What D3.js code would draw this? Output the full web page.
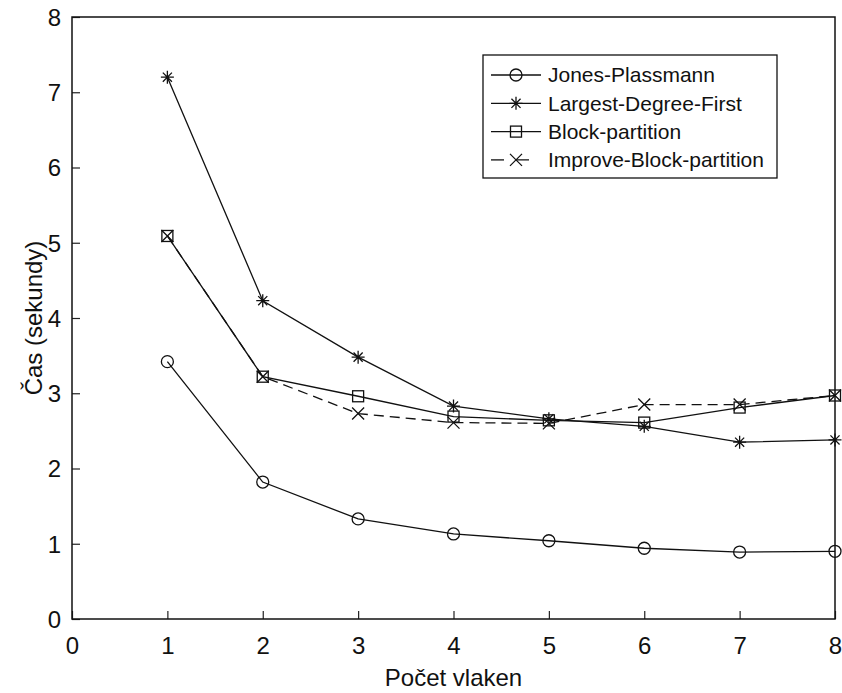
<!DOCTYPE html>
<html>
<head>
<meta charset="utf-8">
<script src="https://cdn.jsdelivr.net/npm/d3@7"></script>
<style>
body { margin: 0; background: #fff; }
svg { font-family: "Liberation Sans", Arial, sans-serif; }
</style>
</head>
<body>
<div id="chart"></div>
<script>
// data
const threads = [1, 2, 3, 4, 5, 6, 7, 8];
const jonesPlassmann = [3.42, 1.82, 1.33, 1.13, 1.04, 0.94, 0.89, 0.90];
const largestDegreeFirst = [7.20, 4.23, 3.48, 2.83, 2.66, 2.56, 2.35, 2.38];
const blockPartition = [5.09, 3.22, 2.96, 2.69, 2.64, 2.61, 2.81, 2.97];
const improveBlockPartition = [5.09, 3.22, 2.73, 2.61, 2.60, 2.85, 2.85, 2.97];
const seriesNames = ["Jones-Plassmann", "Largest-Degree-First", "Block-partition", "Improve-Block-partition"];
const xTicks = [0, 1, 2, 3, 4, 5, 6, 7, 8];
const yTicks = [0, 1, 2, 3, 4, 5, 6, 7, 8];

const W = 842, H = 693;
const margin = {top: 17, right: 7, bottom: 74, left: 72};
const width = W - margin.left - margin.right,
      height = H - margin.top - margin.bottom;

const svg = d3.select("#chart").append("svg")
  .attr("width", W).attr("height", H);
const g = svg.append("g")
  .attr("transform", `translate(${margin.left},${margin.top})`);

const x = d3.scaleLinear().domain([0, 8]).range([0, width]);
const y = d3.scaleLinear().domain([0, 8]).range([height, 0]);

// axes (ticks inward)
const xAxis = g.append("g")
  .attr("transform", `translate(0,${height})`)
  .call(d3.axisBottom(x).tickValues(xTicks).tickSize(-8).tickPadding(18).tickFormat(d3.format("d")));
const yAxis = g.append("g")
  .call(d3.axisLeft(y).tickValues(yTicks).tickSize(-8).tickPadding(11).tickFormat(d3.format("d")));
[xAxis, yAxis].forEach(a => {
  a.select(".domain").remove();
  a.selectAll("line").attr("stroke", "#222").attr("stroke-width", 1.2);
  a.selectAll("text").attr("font-size", 24).attr("fill", "#111")
    .attr("font-family", "Liberation Sans, Arial, sans-serif");
});
yAxis.selectAll("text").attr("dy", "0.35em");

// frame
g.append("rect")
  .attr("width", width).attr("height", height)
  .attr("fill", "none").attr("stroke", "#111").attr("stroke-width", 1.5);

// labels
svg.append("text")
  .attr("x", margin.left + width / 2).attr("y", 686)
  .attr("text-anchor", "middle").attr("font-size", 24).attr("fill", "#111")
  .text("Počet vlaken");
svg.append("text")
  .attr("transform", `translate(42,${margin.top + height / 2}) rotate(-90)`)
  .attr("text-anchor", "middle").attr("font-size", 24).attr("fill", "#111")
  .text("Čas (sekundy)");

// markers
function drawMarker(sel, type) {
  const s = sel.append("g").attr("fill", "none").attr("stroke", "#111").attr("stroke-width", 1.3);
  if (type === "circle") {
    s.append("circle").attr("r", 6);
  } else if (type === "square") {
    s.append("rect").attr("x", -5.5).attr("y", -5.5).attr("width", 11).attr("height", 11);
  } else if (type === "star") {
    const r = 6.5;
    s.append("path").attr("d",
      `M${-r},0H${r}M0,${-r}V${r}` +
      `M${-r * 0.7},${-r * 0.7}L${r * 0.7},${r * 0.7}M${-r * 0.7},${r * 0.7}L${r * 0.7},${-r * 0.7}`);
  } else if (type === "x") {
    const r = 6;
    s.append("path").attr("d", `M${-r},${-r}L${r},${r}M${-r},${r}L${r},${-r}`);
  }
}

const series = [
  {name: seriesNames[0], values: jonesPlassmann, marker: "circle", dash: null},
  {name: seriesNames[1], values: largestDegreeFirst, marker: "star", dash: null},
  {name: seriesNames[2], values: blockPartition, marker: "square", dash: null},
  {name: seriesNames[3], values: improveBlockPartition, marker: "x", dash: "10,6"}
];

const line = d3.line().x((d, i) => x(threads[i])).y(d => y(d));

series.forEach(s => {
  g.append("path")
    .datum(s.values)
    .attr("d", line)
    .attr("fill", "none")
    .attr("stroke", "#111")
    .attr("stroke-width", 1.3)
    .attr("stroke-dasharray", s.dash);
  s.values.forEach((v, i) => {
    const m = g.append("g").attr("transform", `translate(${x(threads[i])},${y(v)})`);
    drawMarker(m, s.marker);
  });
});

// legend
const legend = svg.append("g").attr("transform", "translate(483,55)");
legend.append("rect")
  .attr("width", 294).attr("height", 123)
  .attr("fill", "#fff").attr("stroke", "#111").attr("stroke-width", 1.3);
series.forEach((s, i) => {
  const ly = 20 + i * 28.3;
  legend.append("line")
    .attr("x1", 8).attr("x2", 58).attr("y1", ly).attr("y2", ly)
    .attr("stroke", "#111").attr("stroke-width", 1.3)
    .attr("stroke-dasharray", s.dash ? "13,12" : null);
  const m = legend.append("g").attr("transform", `translate(33,${ly})`);
  drawMarker(m, s.marker);
  legend.append("text")
    .attr("x", 65).attr("y", ly).attr("dy", "0.35em")
    .attr("font-size", 21).attr("fill", "#111")
    .text(s.name);
});
</script>
</body>
</html>
